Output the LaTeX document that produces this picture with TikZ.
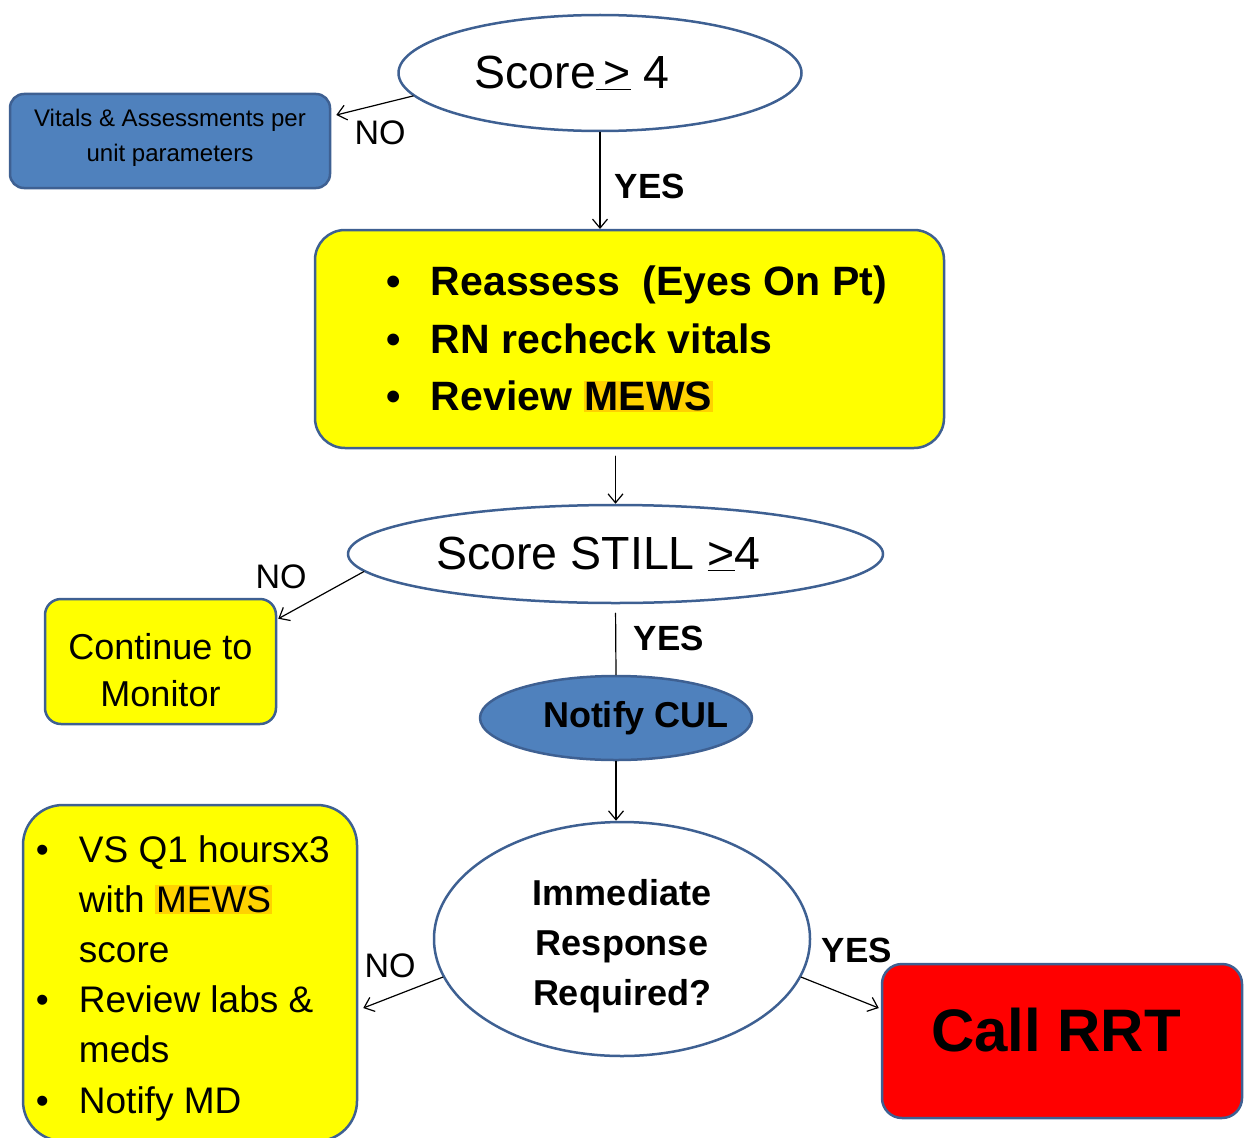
\documentclass[tikz,border=0pt]{standalone}
\usepackage{fontspec}
\setmainfont{Liberation Sans}
\usetikzlibrary{shapes.geometric, arrows.meta, calc}
\definecolor{boxblue}{RGB}{79,129,189}
\definecolor{edgeblue}{RGB}{62,96,146}
\definecolor{boxyellow}{RGB}{255,255,0}
\definecolor{mewsgold}{RGB}{255,210,0}
\newcommand{\fsz}[2]{\fontsize{#1}{#2}\selectfont}
\newcommand{\mews}{{\setlength{\fboxsep}{1pt}\colorbox{mewsgold}{MEWS}}}
\begin{document}
\begin{tikzpicture}[x=1pt, y=-1pt, line join=round, line cap=round, >={Straight Barb[length=9pt,width=15pt]},
	oval/.style={ellipse, draw=edgeblue, line width=2.5pt, inner sep=0pt, align=center},
	ybox/.style={draw=edgeblue, fill=boxyellow, line width=2.5pt, inner sep=0pt, align=center},
	txt/.style={inner sep=0pt, align=center},
	conn/.style={line width=1.2pt, black},
	lbl/.style={font=\fsz{34}{40}, inner sep=0pt},
	lblb/.style={font=\bfseries\fsz{35}{40}, inner sep=0pt}]
	\useasboundingbox (0,0) rectangle (1249,1137);
	% top decision
	\node[oval, minimum width=403, minimum height=116, font=\fsz{46.5}{54}] (score) at (600,73) {Score\underline{\,>}\ 4\hspace*{56pt}};
	\node[draw=edgeblue, fill=boxblue, line width=2.5pt, rounded corners=14pt, minimum width=320, minimum height=94, inner sep=0pt] (vitals) at (170,141) {};
	\node[txt, font=\fsz{24}{35}] (vitalstxt) at ($(vitals)+(0,-3)$) {Vitals \& Assessments per\\unit parameters};
	\node[lbl] (noA) at (380,133) {NO};
	\draw[conn, ->] (score.187) -- ($(vitals.east)+(5,-26)$);
	\node[lblb] (yesA) at (650,186) {YES};
	\draw[conn, ->] (score.south) -- (score.south |- 0,229);
	% reassess box
	\node[ybox, rounded corners=30pt, minimum width=629, minimum height=218] (reassess) at (629.5,339) {};
	\node[anchor=west, align=left, inner sep=0pt, font=\bfseries\fsz{41}{57.5}] (reassesslist) at ($(reassess.west)+(73,0)$) {\makebox[44pt][l]{\textbullet}Reassess\ \ (Eyes On Pt)\\\makebox[44pt][l]{\textbullet}RN recheck vitals\\\makebox[44pt][l]{\textbullet}Review \mews};
	% second decision
	\node[oval, minimum width=535, minimum height=98, font=\fsz{46.5}{54}] (still) at (615.5,554) {Score STILL \underline{>}4\hspace*{34pt}};
	\draw[conn, ->, shorten <=7pt] (still.north |- reassess.south) -- (still.north);
	\node[ybox, rounded corners=16pt, minimum width=231, minimum height=125] (monitor) at (160.5,661.5) {};
	\node[txt, font=\fsz{36}{47}] (monitortxt) at ($(monitor)+(0,9)$) {Continue to\\Monitor};
	\node[lbl] (noB) at (281,577) {NO};
	\draw[conn, ->] (still.184) -- ($(monitor.north east)+(1,21)$);
	\node[oval, fill=boxblue, inner xsep=-30pt, minimum width=272, minimum height=84, font=\bfseries\fsz{36}{42}] (cul) at (616,718) {\hspace*{40pt}Notify CUL};
	\node[lblb] (yesB) at (669,638) {YES};
	\draw[conn, shorten <=9pt] (still.south) -- (cul.north);
	% third decision
	\node[oval, minimum width=376, minimum height=234] (immed) at (622,939) {};
	\node[txt, font=\bfseries\fsz{36}{50}] (immedtxt) at ($(immed)+(0,7)$) {Immediate\\Response\\Required?};
	\draw[conn, ->] (cul.south) -- (cul.south |- immed.north);
	\node[ybox, rounded corners=40pt, minimum width=334, minimum height=336] (mdbox) at (190,973) {};
	\node[anchor=west, align=left, inner sep=0pt, font=\fsz{37}{50.2}] (mdlist) at ($(mdbox.west)+(14,5)$) {\makebox[43pt][l]{\textbullet}VS Q1 hoursx3\\\hspace*{43pt}with \mews\\\hspace*{43pt}score\\\makebox[43pt][l]{\textbullet}Review labs \&\\\hspace*{43pt}meds\\\makebox[43pt][l]{\textbullet}Notify MD};
	\node[lbl] (noC) at (390,966) {NO};
	\draw[conn, ->] (immed.192) -- ($(mdbox.east)+(5,35)$);
	\node[draw=edgeblue, fill=red, line width=2.5pt, rounded corners=20pt, minimum width=360, minimum height=154, inner sep=0pt] (rrt) at (1062,1041) {};
	\node[txt, font=\bfseries\fsz{60}{66}] (rrttxt) at ($(rrt)+(-6,-11)$) {Call RRT};
	\node[lblb] (yesC) at (857,950) {YES};
	\draw[conn, ->] (immed.348) -- ($(rrt.west)+(-2,-33)$);
\end{tikzpicture}
\end{document}
